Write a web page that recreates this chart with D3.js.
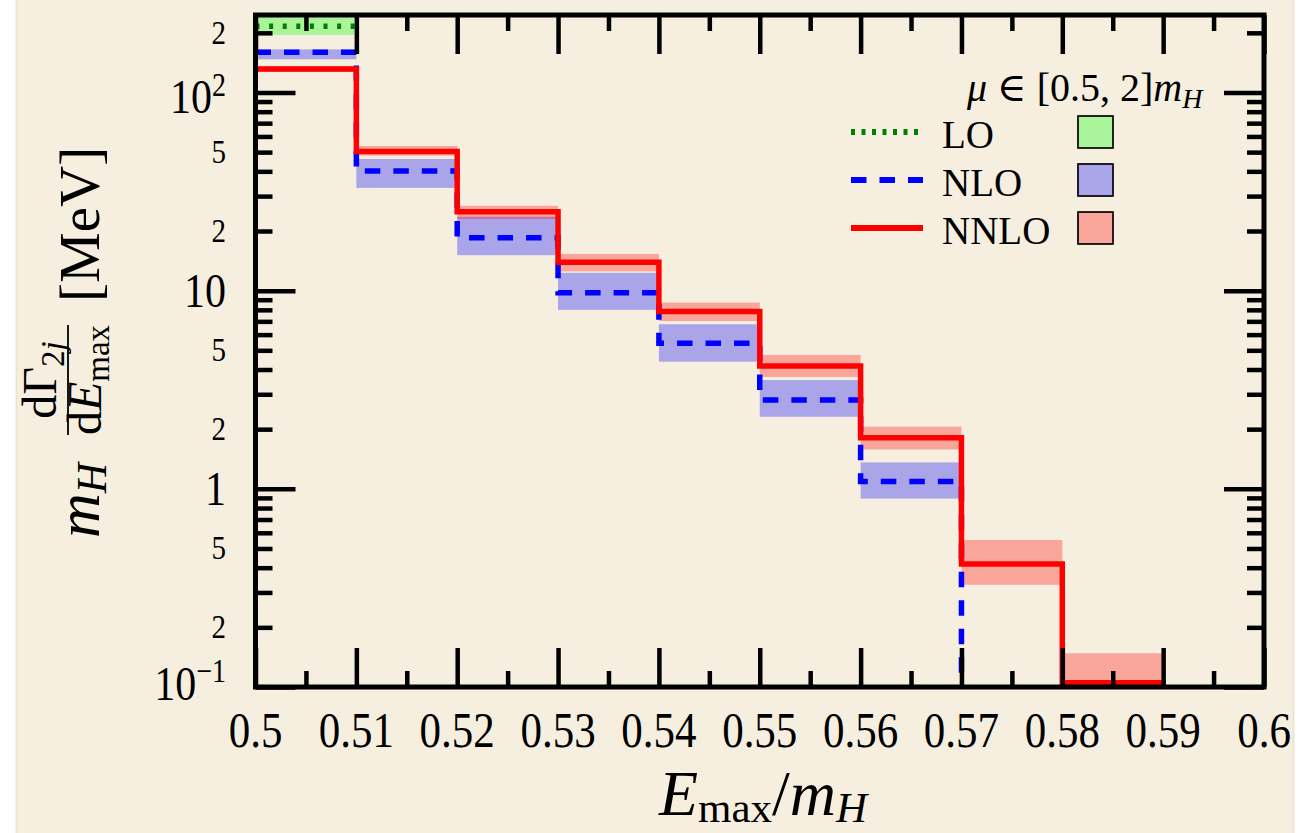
<!DOCTYPE html>
<html>
<head>
<meta charset="utf-8">
<script src="https://cdn.jsdelivr.net/npm/d3@7"></script>
<style>
  html, body { margin: 0; padding: 0; background: #fff; }
  svg { display: block; }
  text { font-family: "Liberation Serif", "DejaVu Serif", serif; fill: #000; }
</style>
</head>
<body>
<div id="chart"></div>
<script>
// bin edges (E_max / m_H)
const binEdges = [0.50, 0.51, 0.52, 0.53, 0.54, 0.55, 0.56, 0.57, 0.58, 0.59];

// LO only fills the first bin
const loValues = [216];
const loLow = [195];
const loHigh = [300];

// NLO
const nloValues = [159.6, 40.2, 18.5, 9.77, 5.43, 2.81, 1.09];
const nloLow = [147, 33.0, 15.1, 8.0, 4.38, 2.31, 0.893];
const nloHigh = [165, 46.2, 23.6, 12.3, 6.77, 3.54, 1.36];

// NNLO
const nnloValues = [131.4, 50.3, 25.0, 13.9, 7.84, 4.17, 1.81, 0.418, 0.105];
const nnloLow = [126.8, 48.0, 23.0, 12.5, 7.03, 3.67, 1.58, 0.328, 0.05];
const nnloHigh = [136, 53.7, 26.8, 15.3, 8.70, 4.74, 2.06, 0.552, 0.148];

// tick labels
const xTicks = [0.5, 0.51, 0.52, 0.53, 0.54, 0.55, 0.56, 0.57, 0.58, 0.59, 0.6];
const xTickLabels = ["0.5", "0.51", "0.52", "0.53", "0.54", "0.55", "0.56", "0.57", "0.58", "0.59", "0.6"];
const yMajorTicks = [0.1, 1, 10, 100];
const yMajorBase = ["10", "1", "10", "10"];
const yMajorExp = ["\u22121", "", "", "2"];
const yMinorLabelTicks = [0.2, 0.5, 2, 5, 20, 50, 200];
const yMinorLabels = ["2", "5", "2", "5", "2", "5", "2"];

const width = 1311, height = 833;
const plotLeft = 255.5, plotRight = 1264, plotTop = 15, plotBottom = 687;

const svg = d3.select("#chart").append("svg")
    .attr("width", width)
    .attr("height", height);

// page background (beige panel with white margins)
svg.append("rect").attr("x", 16).attr("y", 0).attr("width", 1278).attr("height", height)
    .attr("fill", "#f6efe0");
svg.append("line").attr("x1", 16.5).attr("x2", 16.5).attr("y1", 0).attr("y2", height)
    .attr("stroke", "#ebe3d2").attr("stroke-width", 2);
svg.append("line").attr("x1", 1293.5).attr("x2", 1293.5).attr("y1", 0).attr("y2", height)
    .attr("stroke", "#ebe3d2").attr("stroke-width", 2);

const x = d3.scaleLinear().domain([0.5, 0.6]).range([plotLeft, plotRight]);
const y = d3.scaleLog().domain([0.1, 246]).range([plotBottom, plotTop]).clamp(true);

svg.append("defs").append("clipPath").attr("id", "plot-clip")
    .append("rect").attr("x", plotLeft).attr("y", plotTop)
    .attr("width", plotRight - plotLeft).attr("height", plotBottom - plotTop);

const plot = svg.append("g").attr("clip-path", "url(#plot-clip)");

// uncertainty bands
function bands(lo, hi, color) {
    plot.append("g").selectAll("rect")
        .data(lo.map((l, i) => ({ x0: binEdges[i], x1: binEdges[i + 1], lo: l, hi: hi[i] })))
        .enter().append("rect")
        .attr("x", d => x(d.x0))
        .attr("width", d => x(d.x1) - x(d.x0))
        .attr("y", d => y(d.hi))
        .attr("height", d => y(d.lo) - y(d.hi))
        .attr("fill", color)
        .attr("fill-opacity", 0.31);
}
bands(loLow, loHigh, "#00ff00");
bands(nloLow, nloHigh, "#0000ff");
bands(nnloLow, nnloHigh, "#ff0000");

// step lines
const step = d3.line().x(d => x(d[0])).y(d => y(d[1])).curve(d3.curveStepAfter);
function stepPoints(vals, dropToZero) {
    const pts = vals.map((v, i) => [binEdges[i], v]);
    if (dropToZero) pts.push([binEdges[vals.length], y.domain()[0]]);
    else pts.push([binEdges[vals.length], vals[vals.length - 1]]);
    return pts;
}

plot.append("path").attr("d", step(stepPoints(loValues, false)))
    .attr("fill", "none").attr("stroke", "#008000").attr("stroke-width", 5.5)
    .attr("stroke-dasharray", "4,9.6");
plot.append("path").attr("d", step(stepPoints(nloValues, true)))
    .attr("fill", "none").attr("stroke", "#0000ff").attr("stroke-width", 5.5)
    .attr("stroke-dasharray", "15.5,13");
plot.append("path").attr("d", step(stepPoints(nnloValues, true)))
    .attr("fill", "none").attr("stroke", "#ff0000").attr("stroke-width", 5.5);

// inward ticks on all four sides
const xMinor = d3.range(10).map(i => 0.505 + i * 0.01);
const yMinor = [];
for (let e = -1; e <= 2; e++) {
    for (let m = 2; m <= 9; m++) {
        const v = m * Math.pow(10, e);
        if (v < 246) yMinor.push(v);
    }
}

function ticks(axisFn, scale, values, size, transform) {
    const g = svg.append("g").attr("transform", transform)
        .call(axisFn(scale).tickValues(values).tickSize(size).tickSizeOuter(0).tickFormat(""));
    g.select(".domain").remove();
    g.selectAll(".tick text").remove();
    g.selectAll(".tick line").attr("stroke", "#000").attr("stroke-width", 4.5);
}
ticks(d3.axisBottom, x, xTicks, -39, `translate(0,${plotBottom})`);
ticks(d3.axisBottom, x, xMinor, -16, `translate(0,${plotBottom})`);
ticks(d3.axisTop, x, xTicks, -39, `translate(0,${plotTop})`);
ticks(d3.axisTop, x, xMinor, -16, `translate(0,${plotTop})`);
ticks(d3.axisLeft, y, yMajorTicks, -40, `translate(${plotLeft},0)`);
ticks(d3.axisLeft, y, yMinor, -17, `translate(${plotLeft},0)`);
ticks(d3.axisRight, y, yMajorTicks, -40, `translate(${plotRight},0)`);
ticks(d3.axisRight, y, yMinor, -17, `translate(${plotRight},0)`);

// frame
svg.append("rect").attr("x", plotLeft).attr("y", plotTop)
    .attr("width", plotRight - plotLeft).attr("height", plotBottom - plotTop)
    .attr("fill", "none").attr("stroke", "#000").attr("stroke-width", 5);

// x tick labels
svg.append("g").selectAll("g")
    .data(xTicks)
    .enter().append("g")
    .attr("transform", d => `translate(${x(d)},747) scale(1,1.17)`)
    .append("text")
    .attr("text-anchor", "middle")
    .attr("font-size", 43)
    .text((d, i) => xTickLabels[i]);

// y tick labels (major)
const yMaj = svg.append("g").selectAll("g")
    .data(yMajorTicks)
    .enter().append("g")
    .attr("transform", (d, i) => {
        const off = yMajorExp[i] === "2" ? 21 : (yMajorExp[i] ? 13 : 16);
        return `translate(226,${y(d) + off}) scale(1,1.17)`;
    })
    .append("text")
    .attr("text-anchor", "end")
    .attr("font-size", 42);
yMaj.append("tspan").text((d, i) => yMajorBase[i]);
yMaj.append("tspan")
    .attr("font-size", 28)
    .attr("dy", (d, i) => yMajorExp[i] ? -15 : 0)
    .text((d, i) => yMajorExp[i]);

// y tick labels (2 and 5)
svg.append("g").selectAll("g")
    .data(yMinorLabelTicks)
    .enter().append("g")
    .attr("transform", d => `translate(226,${y(d) + 11}) scale(1,1.17)`)
    .append("text")
    .attr("text-anchor", "end")
    .attr("font-size", 29)
    .text((d, i) => yMinorLabels[i]);

// x axis title: E_max / m_H
const xt = svg.append("text")
    .attr("x", 763).attr("y", 815)
    .attr("text-anchor", "middle")
    .attr("font-size", 64);
xt.append("tspan").attr("font-style", "italic").text("E");
xt.append("tspan").attr("font-size", 43).attr("dy", 7).text("max");
xt.append("tspan").attr("dy", -7).text("/");
xt.append("tspan").attr("font-style", "italic").text("m");
xt.append("tspan").attr("font-style", "italic").attr("font-size", 43).attr("dy", 7).text("H");

// y axis title: m_H dΓ_2j / dE_max [MeV]
const yl = svg.append("g").attr("transform", "translate(99,538) rotate(-90)");
const ym = yl.append("text").attr("x", 0).attr("y", 0).attr("font-size", 62);
ym.append("tspan").attr("font-style", "italic").text("m");
ym.append("tspan").attr("font-style", "italic").attr("font-size", 42).attr("dy", 7).text("H");

yl.append("line").attr("x1", 103).attr("x2", 213).attr("y1", -31).attr("y2", -31)
    .attr("stroke", "#000").attr("stroke-width", 1.8);
const num = yl.append("text").attr("x", 158).attr("y", -43)
    .attr("text-anchor", "middle").attr("font-size", 48);
num.append("tspan").text("d\u0393");
num.append("tspan").attr("font-size", 33).attr("dy", 8).text("2");
num.append("tspan").attr("font-size", 33).attr("font-style", "italic").text("j");
const den = yl.append("text").attr("x", 158).attr("y", 2)
    .attr("text-anchor", "middle").attr("font-size", 48);
den.append("tspan").text("d");
den.append("tspan").attr("font-style", "italic").text("E");
den.append("tspan").attr("font-size", 33).attr("dy", 8).text("max");

yl.append("text").attr("x", 236).attr("y", 0).attr("font-size", 57).text("[MeV]");

// legend
const lt = svg.append("text").attr("x", 967).attr("y", 101).attr("font-size", 40);
lt.append("tspan").attr("font-style", "italic").text("\u03bc");
lt.append("tspan").text(" \u2208 [0.5, 2]");
lt.append("tspan").attr("font-style", "italic").text("m");
lt.append("tspan").attr("font-style", "italic").attr("font-size", 28).attr("dy", 7).text("H");

const legendItems = [
    { name: "LO", color: "#008000", band: "#00ff00", dash: "4,6.5", yc: 132, base: 148 },
    { name: "NLO", color: "#0000ff", band: "#0000ff", dash: "15.5,13", yc: 180, base: 196 },
    { name: "NNLO", color: "#ff0000", band: "#ff0000", dash: null, yc: 228, base: 244 }
];
const lg = svg.append("g").selectAll("g").data(legendItems).enter().append("g");
lg.append("line")
    .attr("x1", 851).attr("x2", 923)
    .attr("y1", d => d.yc).attr("y2", d => d.yc)
    .attr("stroke", d => d.color).attr("stroke-width", 6)
    .attr("stroke-dasharray", d => d.dash);
lg.append("text")
    .attr("x", 942).attr("y", d => d.base)
    .attr("font-size", 39)
    .text(d => d.name);
lg.append("rect")
    .attr("x", 1078).attr("y", d => d.yc - 16)
    .attr("width", 35).attr("height", 32)
    .attr("fill", d => d.band).attr("fill-opacity", 0.31)
    .attr("stroke", "#000").attr("stroke-width", 1.7);
</script>
</body>
</html>
